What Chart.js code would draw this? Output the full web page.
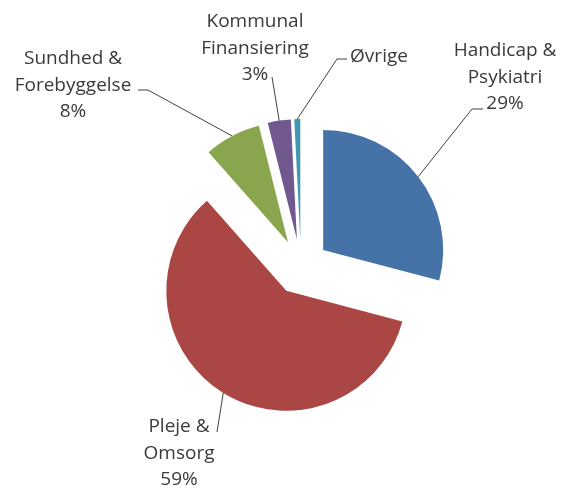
<!DOCTYPE html>
<html>
<head>
<meta charset="utf-8">
<script src="https://cdn.jsdelivr.net/npm/chart.js@4/dist/chart.umd.min.js"></script>
<style>
  body { margin: 0; background: #fff; }
  #wrap { width: 564px; height: 489px; position: relative; }
</style>
</head>
<body>
<div id="wrap"><canvas id="pie"></canvas></div>
<script>
// data
const categories = ["Handicap & Psykiatri", "Pleje & Omsorg", "Sundhed & Forebyggelse", "Kommunal Finansiering", "Øvrige"];
const values = [29.1, 59.4, 7.6, 3.1, 0.8];
const labelLines = [["Handicap &", "Psykiatri"], ["Pleje &", "Omsorg"], ["Sundhed &", "Forebyggelse"], ["Kommunal", "Finansiering"], ["Øvrige"]];
const showPercent = [true, true, true, true, false];
const colors = ["#4572A7", "#AA4643", "#89A54E", "#71588F", "#4198AF"];

// layout for the labels (centre x, first baseline y) and leader bends
const labelPos = [[505, 56], [179, 432], [73, 64], [255, 27], [379, 62]];
const leaders = [
  [[483, 109], [472, 109]],
  [[217, 432]],
  [[138, 90], [148, 90]],
  [[272, 77]],
  [[347, 59], [337, 59]]
];
const EXPLODE = 28;
const LINE_H = 26.5;

// draw every slice pushed out along its middle angle
const explodePlugin = {
  id: "explode",
  beforeDatasetDraw(chart, args) {
    const ctx = chart.ctx;
    args.meta.data.forEach(function (arc) {
      const mid = (arc.startAngle + arc.endAngle) / 2;
      ctx.save();
      ctx.translate(Math.cos(mid) * EXPLODE, Math.sin(mid) * EXPLODE);
      arc.draw(ctx);
      ctx.restore();
    });
    return false;
  }
};

// labels + leader lines
const labelPlugin = {
  id: "pieLabels",
  afterDatasetsDraw(chart) {
    const ctx = chart.ctx;
    const meta = chart.getDatasetMeta(0);
    const total = values.reduce((a, b) => a + b, 0);
    ctx.save();
    ctx.strokeStyle = "#404040";
    ctx.lineWidth = 1;
    meta.data.forEach(function (arc, i) {
      const mid = (arc.startAngle + arc.endAngle) / 2;
      const r = arc.outerRadius + EXPLODE;
      const ex = arc.x + Math.cos(mid) * r;
      const ey = arc.y + Math.sin(mid) * r;
      ctx.beginPath();
      leaders[i].forEach(function (p, k) {
        if (k === 0) ctx.moveTo(p[0], p[1]);
        else ctx.lineTo(p[0], p[1]);
      });
      ctx.lineTo(ex, ey);
      ctx.stroke();

      const lines = labelLines[i].slice();
      if (showPercent[i]) lines.push(Math.round(values[i] / total * 100) + "%");
      ctx.fillStyle = "#3a3a3a";
      ctx.font = "19px 'Open Sans'";
      ctx.textAlign = "center";
      ctx.textBaseline = "alphabetic";
      lines.forEach(function (t, k) {
        ctx.fillText(t, labelPos[i][0], labelPos[i][1] + k * LINE_H);
      });
    });
    ctx.restore();
  }
};

const ctx = document.getElementById("pie");
new Chart(ctx, {
  type: "pie",
  data: {
    labels: categories,
    datasets: [
      {
        data: values,
        backgroundColor: colors,
        borderWidth: 0,
      },
    ],
  },
  options: {
    responsive: true,
    maintainAspectRatio: false,
    animation: false,
    radius: 120,
    layout: { padding: { left: 60, right: 22, top: 60, bottom: 15 } },
    plugins: {
      legend: { display: false },
      tooltip: { enabled: false },
    },
  },
  plugins: [explodePlugin, labelPlugin],
});
</script>
</body>
</html>
